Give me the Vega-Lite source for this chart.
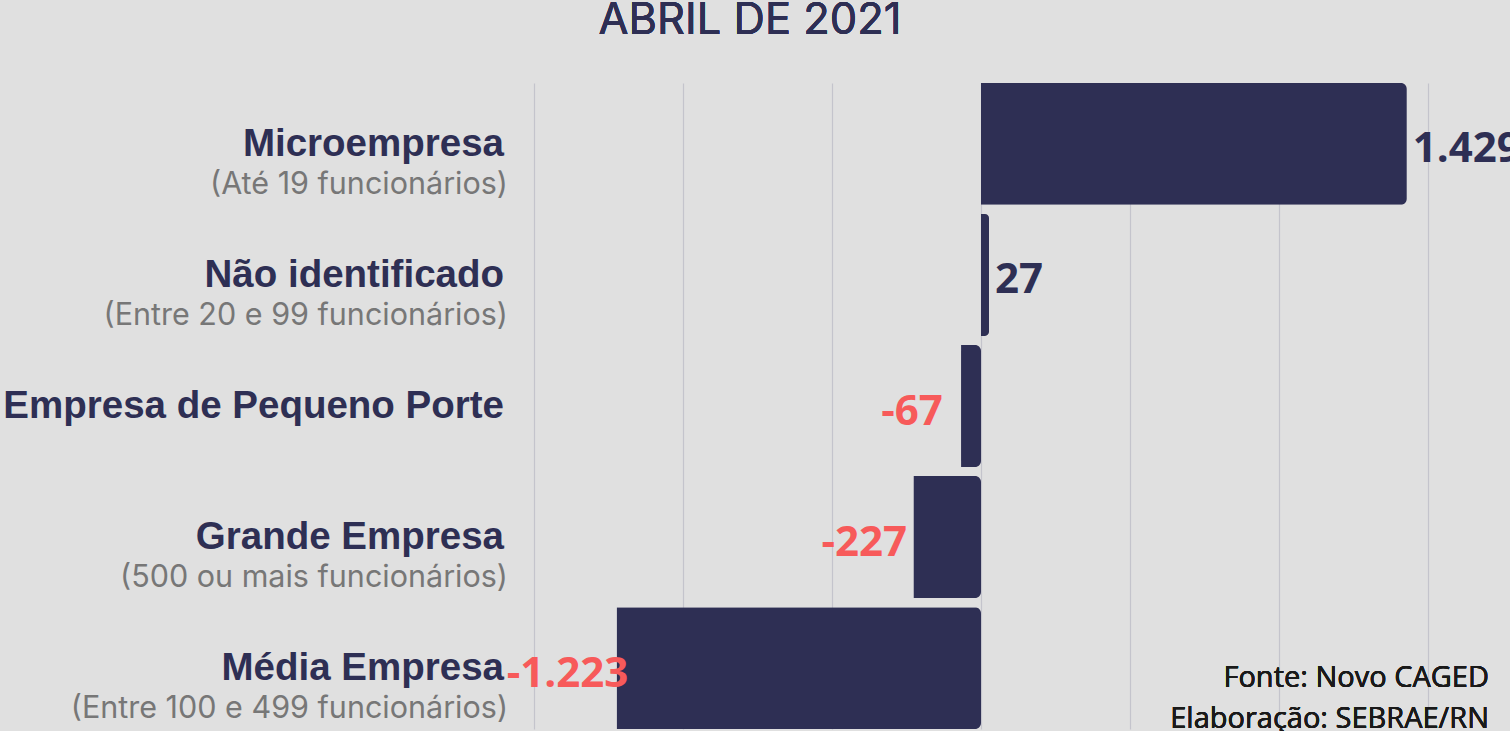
{
  "$schema": "https://vega.github.io/schema/vega-lite/v6.json",
  "autosize": "none",
  "width": 894,
  "height": 646,
  "padding": {"left": 534, "top": 83, "right": 82, "bottom": 2},
  "background": "#e0e0e0",
  "config": {
    "view": {"stroke": null},
    "locale": {"number": {"decimal": ",", "thousands": ".", "grouping": [3], "currency": ["R$", ""], "minus": "-"}}
  },
  "data": {
    "values": [
      {"categoria": "Microempresa", "subtitulo": "(Até 19 funcionários)", "valor": 1429},
      {"categoria": "Não identificado", "subtitulo": "(Entre 20 e 99 funcionários)", "valor": 27},
      {"categoria": "Empresa de Pequeno Porte", "subtitulo": "", "valor": -67},
      {"categoria": "Grande Empresa", "subtitulo": "(500 ou mais funcionários)", "valor": -227},
      {"categoria": "Média Empresa", "subtitulo": "(Entre 100 e 499 funcionários)", "valor": -1223}
    ]
  },
  "encoding": {
    "y": {
      "field": "categoria",
      "type": "nominal",
      "sort": null,
      "scale": {"paddingInner": 0.07, "paddingOuter": 0},
      "axis": null
    }
  },
  "layer": [
    {
      "mark": {"type": "bar", "color": "#2e2f54", "cornerRadiusEnd": 6},
      "encoding": {
        "x": {
          "field": "valor",
          "type": "quantitative",
          "scale": {"domain": [-1500, 1500], "nice": false, "zero": true},
          "axis": {
            "values": [-1500, -1000, -500, 0, 500, 1000, 1500],
            "labels": false,
            "ticks": false,
            "domain": false,
            "title": null,
            "grid": true,
            "gridColor": "#c4c4cc",
            "gridWidth": 1.2
          }
        }
      }
    },
    {
      "transform": [{"filter": "datum.valor > 0"}],
      "mark": {"type": "text", "font": "Open Sans", "fontWeight": "bold", "fontSize": 42, "baseline": "alphabetic", "align": "left", "dx": 6, "dy": 18, "color": "#2e2f54"},
      "encoding": {
        "x": {"field": "valor", "type": "quantitative"},
        "text": {"field": "valor", "type": "quantitative", "format": ",d"}
      }
    },
    {
      "transform": [{"filter": "datum.valor < 0"}],
      "mark": {"type": "text", "font": "Open Sans", "fontWeight": "bold", "fontSize": 42, "baseline": "alphabetic", "align": "center", "dx": -49, "dy": 19, "color": "#f75a5a"},
      "encoding": {
        "x": {"field": "valor", "type": "quantitative"},
        "text": {"field": "valor", "type": "quantitative", "format": ",d"}
      }
    },
    {
      "mark": {"type": "text", "font": "Liberation Sans", "fontWeight": "bold", "fontSize": 38.5, "align": "right", "baseline": "alphabetic", "dx": -30, "dy": 12, "color": "#2e2f54"},
      "encoding": {
        "x": {"datum": -1500, "type": "quantitative"},
        "text": {"field": "categoria"}
      }
    },
    {
      "mark": {"type": "text", "font": "Inter", "fontSize": 30.5, "align": "right", "baseline": "alphabetic", "dx": -26, "dy": 50, "color": "#777777"},
      "encoding": {
        "x": {"datum": -1500, "type": "quantitative"},
        "text": {"field": "subtitulo"}
      }
    },
    {
      "mark": {"type": "text", "font": "Open Sans", "fontSize": 29, "align": "right", "baseline": "alphabetic", "dx": 61, "dy": 19, "lineHeight": 41, "color": "#1a1a1a"},
      "encoding": {
        "x": {"datum": 1500, "type": "quantitative"},
        "y": {"datum": "Média Empresa", "type": "nominal"},
        "text": {"value": ["Fonte: Novo CAGED", "Elaboração: SEBRAE/RN"]}
      }
    },
    {
      "mark": {"type": "text", "font": "Inter", "fontSize": 43.5, "fontWeight": 400, "align": "center", "baseline": "alphabetic", "dx": -231, "dy": -110, "color": "#2e2f54"},
      "encoding": {
        "x": {"datum": 0, "type": "quantitative"},
        "y": {"datum": "Microempresa", "type": "nominal"},
        "text": {"value": "ABRIL DE 2021"}
      }
    }
  ]
}
